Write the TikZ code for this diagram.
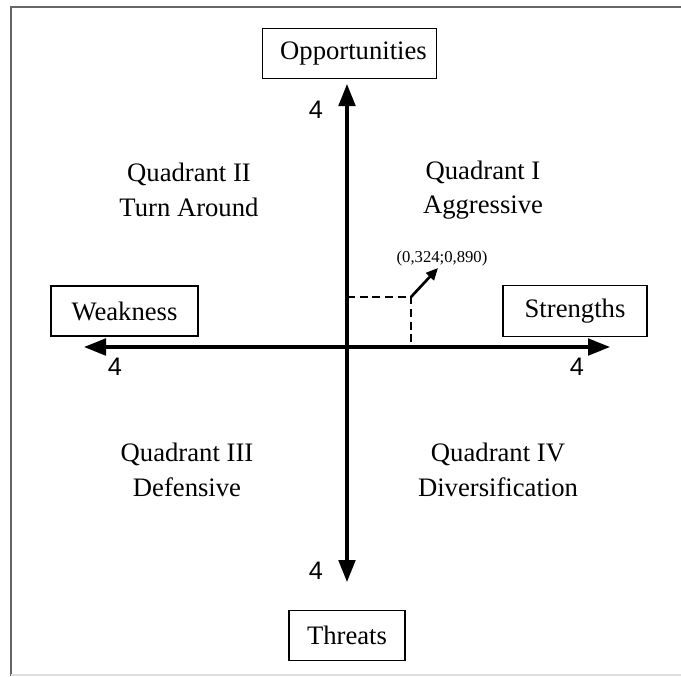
\documentclass[tikz,border=0pt]{standalone}
\usepackage{fontspec}
\setmainfont{Liberation Serif}
\newfontfamily\numfont{Liberation Sans}
\usetikzlibrary{arrows.meta}

\tikzset{
	axisline/.style={line width=2.3pt, {Triangle[length=16.5pt,width=12.5pt]}-{Triangle[length=16.5pt,width=12.5pt]}},
	labelbox/.style={draw, line width=0.9pt, minimum width=131pt, minimum height=38pt, font=\fontsize{20}{23}\selectfont},
	quadtext/.style={align=center, font=\fontsize{20}{26}\selectfont},
	numlabel/.style={font=\numfont\fontsize{19}{22}\selectfont},
	guide/.style={line width=2.1pt, dash pattern=on 6pt off 3.5pt}
}

\begin{document}
\begin{tikzpicture}[x=0.75pt,y=0.75pt,yscale=-1,xscale=1]
	\useasboundingbox (0,0) rectangle (681,676);

	% outer frame
	\draw [line width=1.5pt, color=gray!80!black] (11,676) -- (11,7) -- (681,7) ;
	\draw [line width=0.8pt, color=gray!25] (11,675) -- (681,675) ;

	% axis ends
	\coordinate (top) at (347,84);
	\coordinate (bottom) at (347,582);
	\coordinate (left) at (84,347);
	\coordinate (right) at (610,347);

	% axes
	\draw [axisline] (bottom) -- (top) ;
	\draw [axisline] (left) -- (right) ;

	% Text Node
	\node [labelbox] (opp) at (349.5,53.5) {\hspace{6pt}Opportunities};
	% Text Node
	\node [labelbox, minimum width=87pt] (thr) at (347,635.5) {Threats};
	% Text Node
	\node [labelbox, line width=1.5pt, minimum width=110pt] (weak) at (124.5,311) {Weakness\hspace{8pt}};
	% Text Node
	\node [labelbox, minimum width=108pt] (str) at (575,311) {Strengths};

	% Text Node
	\node [numlabel] (ntop) at (316,110) {4};
	\node [numlabel] (nleft) at (115,367) {4};
	\node [numlabel] (nright) at (577,367) {4};
	\node [numlabel] (nbottom) at (316,571) {4};

	% Text Node
	\node [quadtext] (q2) at (189,190) {Quadrant II\\Turn Around};
	\node [quadtext] (q1) at (483,190) {Quadrant I\\Aggressive};
	\node [quadtext] (q3) at (187,470) {Quadrant III\\Defensive};
	\node [quadtext] (q4) at (498,470) {Quadrant IV\\Diversification};

	% position of the point
	\coordinate (yaxis) at (347,297);
	\coordinate (pt) at (411,297);
	\coordinate (xaxis) at (411,347);
	\coordinate (tip) at (438,268);
	\draw [guide] (yaxis) -- (pt) -- (xaxis) ;
	\draw [line width=2pt, -{Triangle[length=9pt,width=8pt]}] (pt) -- (tip) ;
	\node [font=\fontsize{12.5}{14}\selectfont] (val) at (442,258) {(0,324;0,890)};

\end{tikzpicture}
\end{document}
